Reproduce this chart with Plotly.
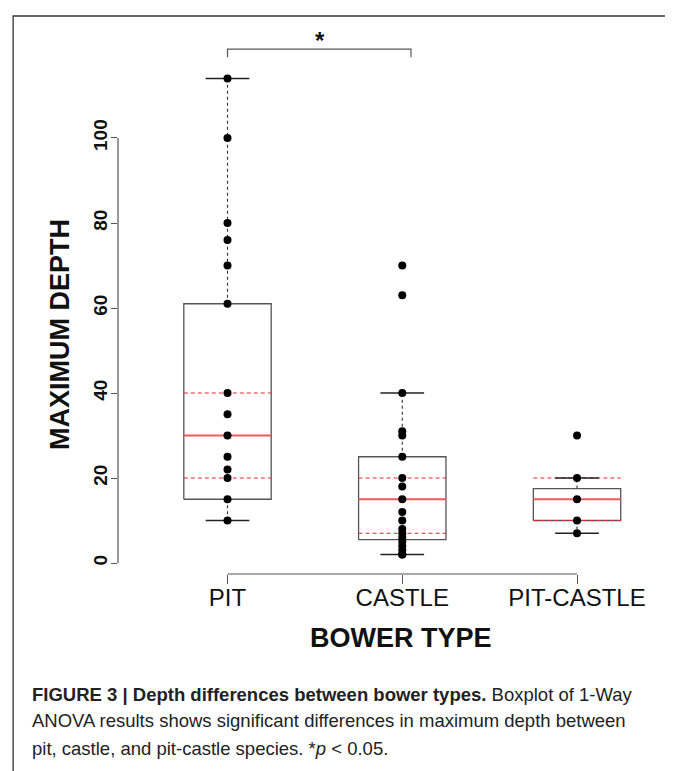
import plotly.graph_objects as go

# ---------------- data ----------------
groups = ["PIT", "CASTLE", "PIT-CASTLE"]
pit_points = [114, 100, 80, 76, 70, 61, 40, 35, 30, 25, 22, 20, 15, 10]
castle_points = [70, 63, 40, 31, 30, 25, 20, 18, 15, 12, 10, 8, 7, 6, 5, 4, 3, 2, 2]
pitcastle_points = [30, 20, 15, 10, 7]
q1 = [15, 5.5, 10]
median = [30, 15, 15]
q3 = [61, 25, 17.5]
whisker_low = [10, 2, 7]
whisker_high = [114, 40, 20]
ref_low = [20, 7, 10]
ref_high = [40, 20, 20]
y_ticks = [0, 20, 40, 60, 80, 100]
signif_pair = (0, 1)
signif_label = "*"

points_by_group = [pit_points, castle_points, pitcastle_points]

# ---------------- style ----------------
FONT = "Liberation Sans, Arial, Helvetica, sans-serif"
HW = 0.25    # half box width (x units)
CW = 0.125   # half whisker-cap width
GRAY = "#555555"

fig = go.Figure()

for i, g in enumerate(groups):
    pos = i + 1
    # box
    fig.add_trace(go.Scatter(
        x=[pos - HW, pos + HW, pos + HW, pos - HW, pos - HW],
        y=[q1[i], q1[i], q3[i], q3[i], q1[i]],
        mode="lines", line=dict(color=GRAY, width=1.3), hoverinfo="skip"))
    # dashed whiskers
    fig.add_trace(go.Scatter(
        x=[pos, pos, None, pos, pos],
        y=[q3[i], whisker_high[i], None, q1[i], whisker_low[i]],
        mode="lines", line=dict(color="#333333", width=1.1, dash="3px,3px"),
        hoverinfo="skip"))
    # red dashed reference lines
    fig.add_trace(go.Scatter(
        x=[pos - HW, pos + HW, None, pos - HW, pos + HW],
        y=[ref_low[i], ref_low[i], None, ref_high[i], ref_high[i]],
        mode="lines", line=dict(color="#e8282c", width=1.2, dash="4px,3px"),
        hoverinfo="skip"))
    # whisker caps
    fig.add_trace(go.Scatter(
        x=[pos - CW, pos + CW, None, pos - CW, pos + CW],
        y=[whisker_high[i], whisker_high[i], None, whisker_low[i], whisker_low[i]],
        mode="lines", line=dict(color="#222222", width=1.3), hoverinfo="skip"))
    # median
    fig.add_trace(go.Scatter(
        x=[pos - HW, pos + HW], y=[median[i], median[i]],
        mode="lines", line=dict(color="#f05a5a", width=1.8), hoverinfo="skip"))
    # points
    fig.add_trace(go.Scatter(
        x=[pos] * len(points_by_group[i]), y=points_by_group[i],
        mode="markers", marker=dict(color="black", size=8), name=g))

# axis lines (R style, only over data range)
shapes = [
    dict(type="line", xref="paper", yref="y", x0=0, x1=0, y0=y_ticks[0], y1=y_ticks[-1],
         line=dict(color=GRAY, width=1.2)),
    dict(type="line", xref="x", yref="paper", x0=1, x1=len(groups), y0=0, y1=0,
         line=dict(color=GRAY, width=1.2)),
    # significance bracket
    dict(type="path", xref="x", yref="y",
         path="M {a},119 L {a},120.9 L {b},120.9 L {b},119".format(
             a=signif_pair[0] + 1, b=signif_pair[1] + 1.05),
         line=dict(color=GRAY, width=1.2)),
    # outer frame
    dict(type="rect", xref="paper", yref="paper", x0=-0.190, x1=0.9995,
         y0=-0.45, y1=1.0257, line=dict(color="#333333", width=1.3)),
]

annotations = [
    dict(text=signif_label, xref="x", yref="y", x=1.529, y=123.0, showarrow=False,
         font=dict(family=FONT, size=24, color="#111111", weight=700),
         xanchor="center", yanchor="middle"),
    dict(text="MAXIMUM DEPTH", xref="paper", yref="paper", x=-0.105, y=0.4393,
         textangle=-90, showarrow=False, xanchor="center", yanchor="middle",
         font=dict(family=FONT, size=27, color="#111111", weight=700)),
    dict(text="BOWER TYPE", xref="paper", yref="paper", x=0.5127, y=-0.1176,
         showarrow=False, xanchor="center", yanchor="middle",
         font=dict(family=FONT, size=27, color="#111111", weight=700)),
]

caption = [
    "<b>FIGURE 3 | Depth differences between bower types.</b> Boxplot of 1-Way",
    "ANOVA results shows significant differences in maximum depth between",
    "pit, castle, and pit-castle species. *<i>p</i> &lt; 0.05.",
]
cap_y = [-0.2206, -0.2702, -0.3199]
for t, yy in zip(caption, cap_y):
    annotations.append(dict(text=t, xref="paper", yref="paper", x=-0.1594, y=yy,
                            showarrow=False, xanchor="left", yanchor="middle",
                            font=dict(family=FONT, size=18.5, color="#222222")))

fig.update_layout(
    width=665, height=763,
    margin=dict(l=110, r=3, t=22, b=197),
    plot_bgcolor="white", paper_bgcolor="white",
    showlegend=False,
    shapes=shapes, annotations=annotations,
    xaxis=dict(range=[0.3734, 3.532], tickvals=[1, 2, 3], ticktext=groups,
               ticks="outside", ticklen=9, tickwidth=1.2, tickcolor=GRAY,
               ticklabelstandoff=-7,
               showline=False, showgrid=False, zeroline=False,
               tickfont=dict(family=FONT, size=24, color="#111111")),
    yaxis=dict(range=[-2.588, 125.41], tickvals=y_ticks,
               ticks="outside", ticklen=6, tickwidth=1.2, tickcolor=GRAY,
               ticklabelstandoff=-4,
               tickangle=-90, showline=False, showgrid=False, zeroline=False,
               tickfont=dict(family=FONT, size=19, color="#111111", weight=700)),
)

fig.write_html("out.html")
